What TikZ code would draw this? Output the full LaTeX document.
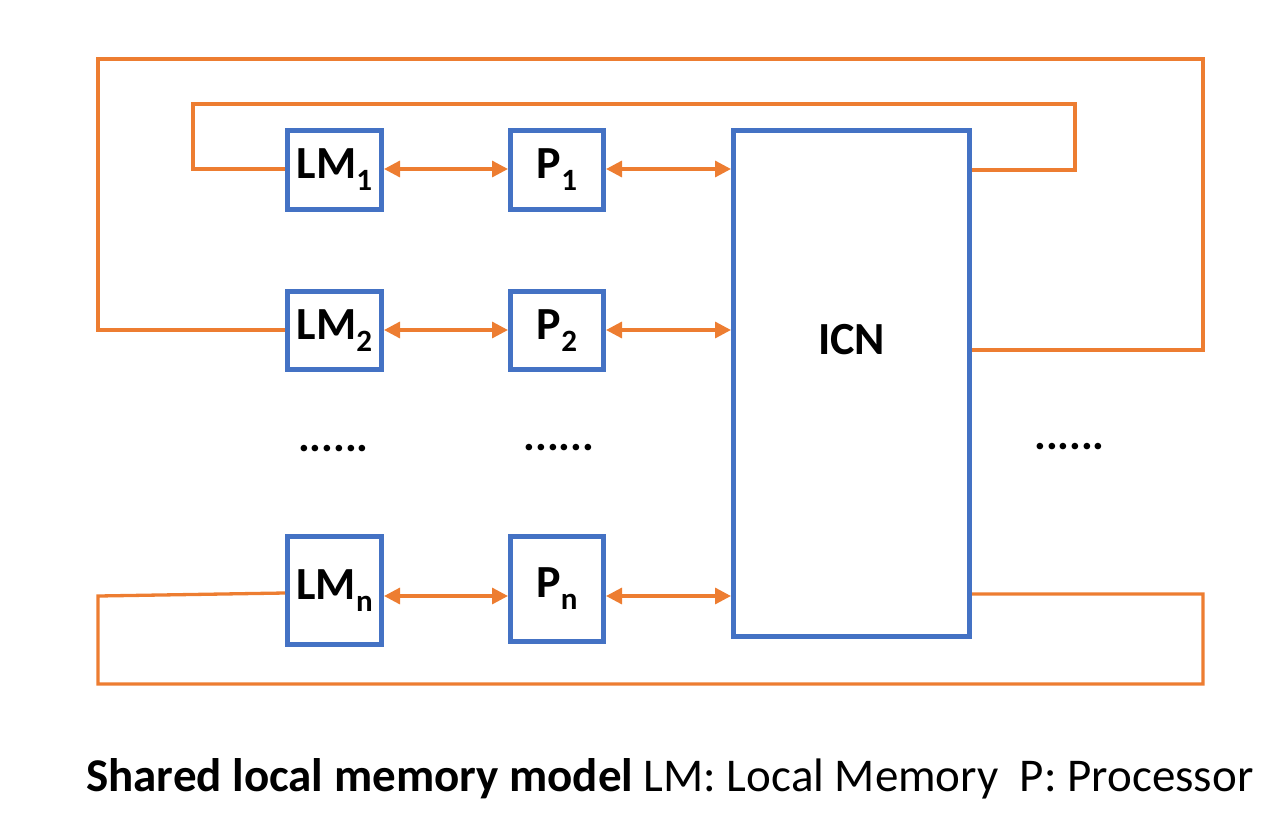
\documentclass[tikz,border=0pt]{standalone}
\usepackage{fontspec}
\setmainfont{Carlito}
\usetikzlibrary{arrows.meta}
\definecolor{boxblue}{HTML}{4472C4}
\definecolor{wireorange}{HTML}{ED7D31}
\newcommand{\lbl}[1]{{\fontsize{31}{31}\selectfont\raisebox{-12pt}{#1}}}
\begin{document}
\begin{tikzpicture}[x=1pt,y=-1pt,
  unit/.style={draw=boxblue,line width=5pt,inner sep=0pt,fill=white,
    font=\fontsize{46}{46}\selectfont\bfseries},
  wire/.style={draw=wireorange,line width=3.3pt},
  link/.style={wire,{Triangle[length=16pt,width=16pt]}-{Triangle[length=16pt,width=16pt]}},
  dots/.style={font=\fontsize{44}{44}\selectfont\bfseries,inner sep=0pt},
  caption/.style={font=\fontsize{47}{47}\selectfont,inner sep=0pt,anchor=base west}]
\useasboundingbox (0,0) rectangle (1282,833);
% boxes
\node[unit,minimum width=94pt,minimum height=79pt] (LM1) at (334.5,170) {LM\lbl{1}};
\node[unit,minimum width=94pt,minimum height=78pt] (LM2) at (334.5,330.5) {LM\lbl{2}};
\node[unit,minimum width=94pt,minimum height=108pt] (LMn) at (334.5,590.5) {LM\lbl{n}};
\node[unit,minimum width=93pt,minimum height=79pt] (P1) at (557,170) {P\lbl{1}};
\node[unit,minimum width=93pt,minimum height=78pt] (P2) at (557,330.5) {P\lbl{2}};
\node[unit,minimum width=93pt,minimum height=105pt] (Pn) at (557,589) {P\lbl{n}};
\node[unit,minimum width=236pt,minimum height=506pt] (ICN) at (851.5,383.5) {};
\node[font=\fontsize{46}{46}\selectfont\bfseries,inner sep=0pt] (icnlabel) at (851.5,340) {ICN};
% row levels
\coordinate (r1) at (0,169);
\coordinate (r2) at (0,330);
\coordinate (rn) at (0,596);
% links
\draw[link] (LM1.east |- r1) -- (P1.west |- r1);
\draw[link] (P1.east |- r1) -- (ICN.west |- r1);
\draw[link] (LM2.east |- r2) -- (P2.west |- r2);
\draw[link] (P2.east |- r2) -- (ICN.west |- r2);
\draw[link] (LMn.east |- rn) -- (Pn.west |- rn);
\draw[link] (Pn.east |- rn) -- (ICN.west |- rn);
% loops
\coordinate (a1) at (193,104);
\coordinate (b1) at (1075,170);
\draw[wire,line join=miter] (LM1.west |- 0,169) -| (a1) -| (b1) -- (ICN.east |- b1);
\coordinate (a2) at (98,59);
\coordinate (b2) at (1203,350);
\draw[wire,line join=miter] (LM2.west |- 0,330) -| (a2) -| (b2) -- (ICN.east |- b2);
\coordinate (an) at (98,596);
\coordinate (cn) at (98,684);
\coordinate (bn) at (1203,594);
\draw[wire,line join=miter] (LMn.west |- 0,593) -- (an) -- (cn) -| (bn) -- (ICN.east |- bn);
% dots
\node[dots] (d1) at (333.5,449) {......};
\node[dots] (d2) at (559,448) {......};
\node[dots] (d3) at (1069.5,447) {......};
% caption
\node[caption] (cap) at (86,791) {{\bfseries Shared local memory model} LM: Local Memory\ \ P: Processor};
\end{tikzpicture}
\end{document}
